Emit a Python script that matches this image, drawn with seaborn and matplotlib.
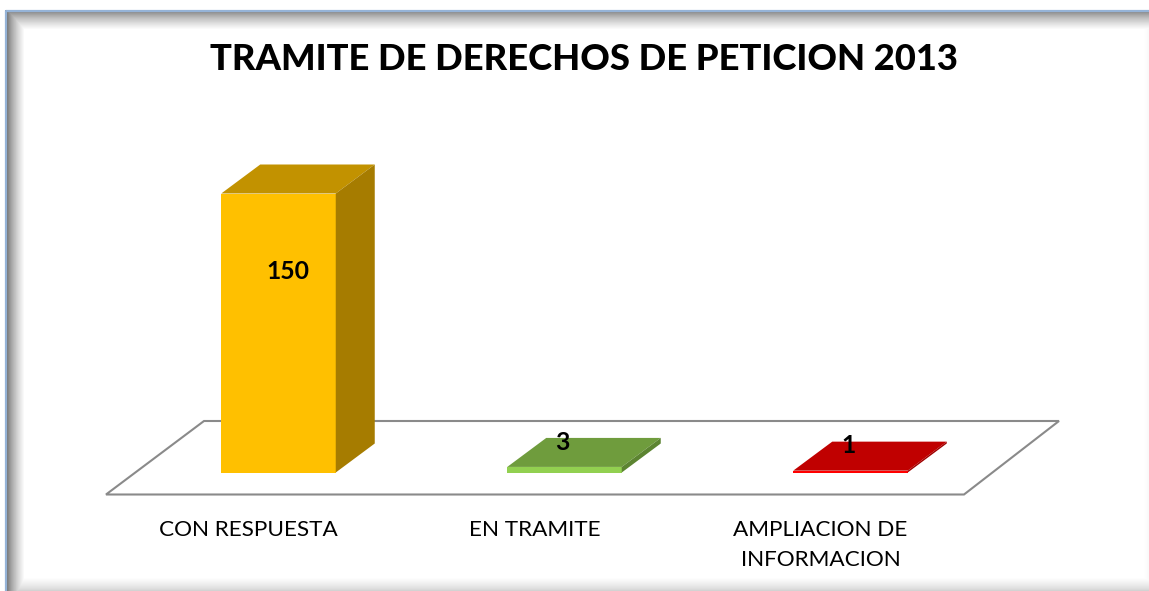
import numpy as np
import pandas as pd
import matplotlib
matplotlib.use("Agg")
import matplotlib.pyplot as plt
from matplotlib.patches import Polygon
import seaborn as sns

categories = ["CON RESPUESTA", "EN TRAMITE", "AMPLIACION DE\nINFORMACION"]
values = [150, 3, 1]
title = "TRAMITE DE DERECHOS DE PETICION 2013"

front_colors = ["#ffc000", "#92d050", "#ff0000"]
top_colors = ["#c29200", "#6f9c3d", "#c00000"]
side_colors = ["#a67c00", "#5c8431", "#a00000"]
label_offsets = [(9, -107), (-2, -5), (-2, -4)]

W, H = 1149, 591
sns.set_theme(style="white")
plt.rcParams["font.family"] = ["Lato", "DejaVu Sans"]

fig = plt.figure(figsize=(W / 100, H / 100), dpi=100)

# frame with inner shadow
bg = fig.add_axes([0, 0, 1, 1], zorder=0)
yy, xx = np.mgrid[0:H, 0:W]
d_left = np.clip((xx - 6) / 18, 0, 1)
d_top = np.clip((yy - 11) / 18, 0, 1)
d_right = np.clip((1149 - xx) / 6, 0, 1)
d_bot = np.clip((591 - yy) / 14, 0, 1)
shade = np.minimum.reduce([0.4 + 0.6 * d_left ** 0.7, 0.5 + 0.5 * d_top ** 0.7,
                           0.97 + 0.03 * d_right, 0.8 + 0.2 * d_bot ** 0.7])
shade[:10, :] = 1
shade[:, :5] = 1
bg.imshow(shade, cmap="gray", vmin=0, vmax=1, aspect="auto", extent=(0, W, H, 0))
bg.plot([5.5, 5.5, W], [H, 10.5, 10.5], color="#95b3d7", lw=1.6)
bg.set_xlim(0, W)
bg.set_ylim(H, 0)
bg.axis("off")

# main axes, x in categories and y in values
FLOOR_Y = 495
CENTER_X = 278.5
ax = fig.add_axes([0, 1 - FLOOR_Y / H, 1, FLOOR_Y / H], zorder=1)
ax.patch.set_alpha(0)
PX_X = 286
PX_Y = 279 / 150

df = pd.DataFrame({"cat": categories, "val": values})
sns.barplot(data=df, x="cat", y="val", hue="cat", palette=front_colors, legend=False,
            width=114.5 / PX_X, saturation=1, linewidth=0, edgecolor="none", ax=ax, zorder=3)
ax.set_xlim(-CENTER_X / PX_X, (W - CENTER_X) / PX_X)
ax.set_ylim(-(FLOOR_Y - 472.5) / PX_Y, 472.5 / PX_Y)


def to_x(px):
    return (px - CENTER_X) / PX_X


def to_y(py):
    return (472.5 - py) / PX_Y


floor = Polygon([(to_x(106), to_y(494.5)), (to_x(964), to_y(494.5)),
                 (to_x(1059), to_y(421)), (to_x(204), to_y(421))],
                closed=True, facecolor="white", edgecolor="#8a8a8a", lw=1.5, zorder=1,
                clip_on=False)
ax.add_patch(floor)

# fake depth on each bar
dx = 39 / PX_X
dy = 29 / PX_Y
for bar, tc, sc in zip(ax.patches[:3], top_colors, side_colors):
    x0, w, h = bar.get_x(), bar.get_width(), bar.get_height()
    ax.add_patch(Polygon([(x0, h), (x0 + w, h), (x0 + w + dx, h + dy), (x0 + dx, h + dy)],
                         facecolor=tc, edgecolor="none", zorder=3))
    ax.add_patch(Polygon([(x0 + w, 0), (x0 + w + dx, dy), (x0 + w + dx, h + dy), (x0 + w, h)],
                         facecolor=sc, edgecolor="none", zorder=3))

for i, (v, off) in enumerate(zip(values, label_offsets)):
    ax.annotate(str(v), xy=(i, v + dy), xytext=off, textcoords="offset pixels", ha="center",
                va="center", fontsize=17.8, fontweight="bold", color="black", zorder=5)

ax.set_xticks([i - 30 / PX_X for i in range(len(categories))])
ax.set_xticklabels(categories, fontsize=16.2, color="black", linespacing=1.65)
ax.tick_params(axis="x", length=0, pad=18)
ax.set_yticks([])
ax.set_xlabel("")
ax.set_ylabel("")
sns.despine(ax=ax, left=True, bottom=True)

fig.text(584.5 / W, 1 - 60 / H, title, ha="center", va="center", fontsize=26.2, fontweight="black",
         color="black", zorder=5)

fig.savefig("out.png", dpi=100)
